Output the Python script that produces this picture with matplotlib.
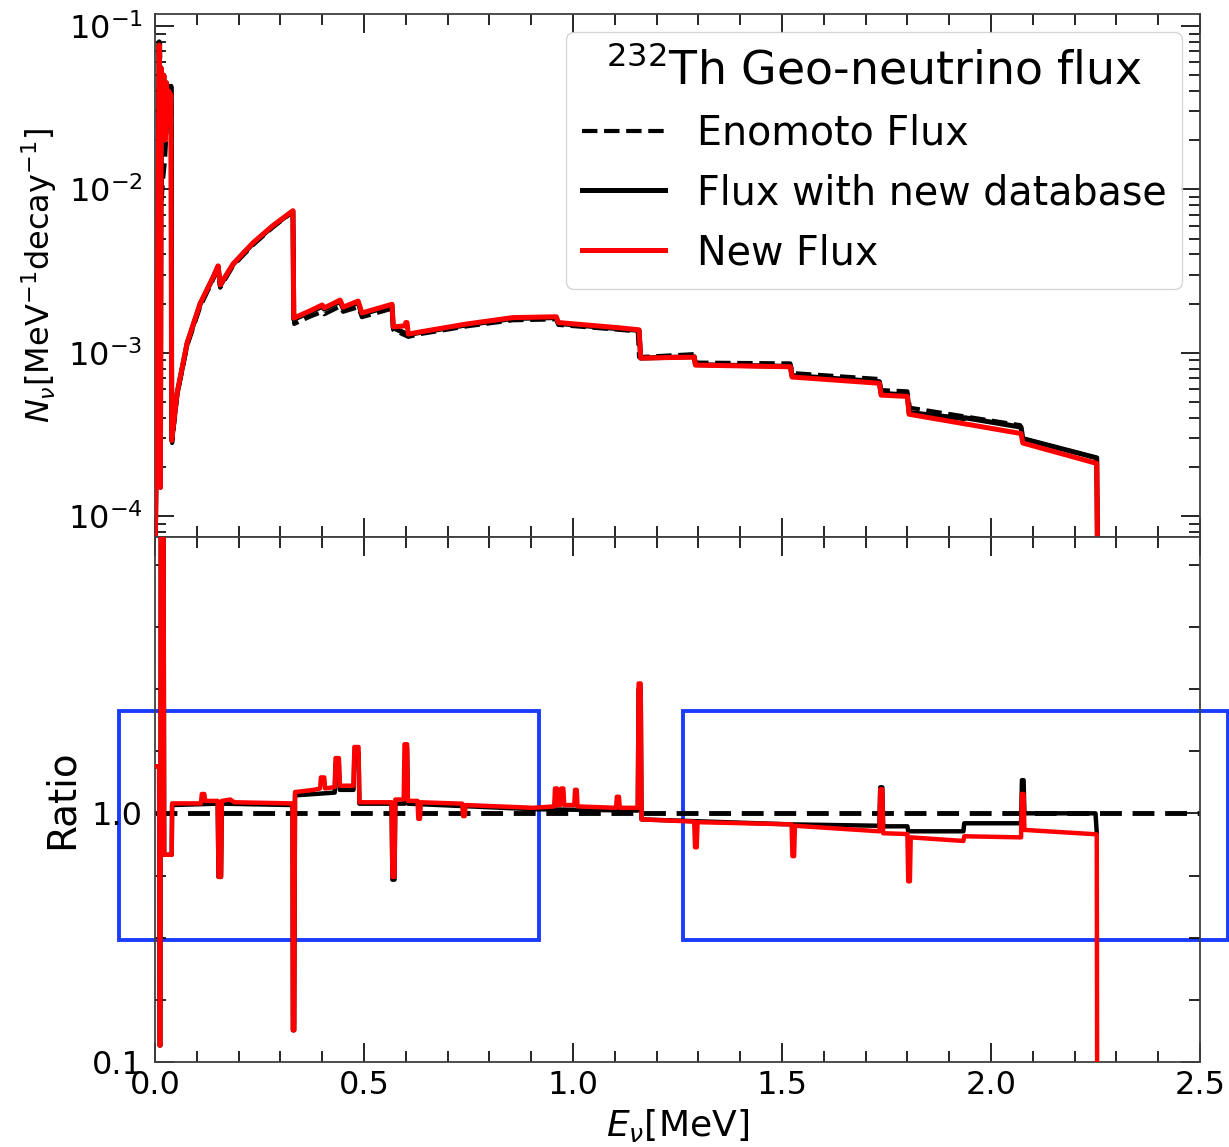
import matplotlib
matplotlib.use("Agg")
import matplotlib.pyplot as plt
from matplotlib.ticker import AutoMinorLocator, FixedLocator, FixedFormatter, LogLocator, NullFormatter
from matplotlib.lines import Line2D
from matplotlib.patches import Rectangle

# ---- 232Th geo-neutrino spectra (E in MeV, N in MeV^-1 decay^-1) ----
E_eno = [0.000, 0.003, 0.012, 0.014, 0.016, 0.020, 0.024, 0.030, 0.036, 0.039, 0.041,
         0.053, 0.077, 0.108, 0.139, 0.151, 0.156, 0.187, 0.234, 0.282, 0.330,
         0.333, 0.370, 0.400, 0.405, 0.443, 0.450, 0.486, 0.495, 0.567, 0.570, 0.606, 0.634,
         0.746, 0.856, 0.960, 0.965, 1.112, 1.155,
         1.158, 1.290, 1.293, 1.520, 1.526, 1.733, 1.737, 1.800, 1.806, 2.070, 2.076, 2.253, 2.255]
N_eno = [5e-5, 2e-4, 8.3e-2, 3.5e-2, 8.7e-3, 1.2e-2, 1.5e-2, 3.0e-2, 4.3e-2, 4.3e-2, 2.8e-4,
         5.5e-4, 1.1e-3, 1.9e-3, 2.8e-3, 3.3e-3, 2.5e-3, 3.4e-3, 4.55e-3, 5.85e-3, 7.3e-3,
         1.50e-3, 1.66e-3, 1.78e-3, 1.72e-3, 1.92e-3, 1.78e-3, 1.90e-3, 1.65e-3, 1.86e-3, 1.38e-3, 1.25e-3, 1.30e-3,
         1.45e-3, 1.58e-3, 1.60e-3, 1.48e-3, 1.38e-3, 1.35e-3,
         9.4e-4, 9.8e-4, 8.7e-4, 8.6e-4, 7.5e-4, 6.9e-4, 5.9e-4, 5.8e-4, 4.6e-4, 3.6e-4, 2.98e-4, 2.27e-4, 5e-5]

E_db = [0.000, 0.003, 0.010, 0.012, 0.013, 0.015, 0.018, 0.021, 0.024, 0.027, 0.030, 0.033, 0.036, 0.039, 0.040,
        0.053, 0.077, 0.108, 0.139, 0.151, 0.156, 0.187, 0.234, 0.282, 0.330,
        0.332, 0.370, 0.400, 0.405, 0.443, 0.450, 0.486, 0.495, 0.567, 0.570, 0.606, 0.634,
        0.746, 0.856, 0.960, 0.965, 1.112, 1.158,
        1.162, 1.290, 1.293, 1.520, 1.524, 1.733, 1.737, 1.800, 1.804, 1.935, 1.937, 2.072, 2.076, 2.253, 2.255]
N_db = [5e-5, 2e-4, 8.0e-2, 3.5e-2, 1.5e-4, 5.5e-2, 2.5e-2, 5.0e-2, 2.0e-2, 4.5e-2, 2.5e-2, 4.0e-2, 4.2e-2, 4.2e-2, 2.9e-4,
        5.6e-4, 1.14e-3, 1.98e-3, 2.88e-3, 3.38e-3, 2.58e-3, 3.48e-3, 4.65e-3, 5.95e-3, 7.35e-3,
        1.60e-3, 1.77e-3, 1.92e-3, 1.85e-3, 2.06e-3, 1.87e-3, 2.03e-3, 1.72e-3, 1.95e-3, 1.42e-3, 1.29e-3, 1.33e-3,
        1.48e-3, 1.62e-3, 1.64e-3, 1.51e-3, 1.40e-3, 1.37e-3,
        9.27e-4, 9.45e-4, 8.45e-4, 8.25e-4, 7.25e-4, 6.65e-4, 5.65e-4, 5.5e-4, 4.3e-4, 3.95e-4, 4.0e-4, 3.5e-4, 2.98e-4, 2.27e-4, 5e-5]

E_new = [0.000, 0.003, 0.010, 0.012, 0.013, 0.015, 0.018, 0.021, 0.024, 0.027, 0.030, 0.033, 0.036, 0.038, 0.040,
         0.053, 0.077, 0.108, 0.139, 0.151, 0.156, 0.187, 0.234, 0.282, 0.330,
         0.332, 0.370, 0.400, 0.405, 0.443, 0.450, 0.486, 0.495, 0.567, 0.570, 0.598, 0.600, 0.603, 0.606, 0.634,
         0.746, 0.856, 0.960, 0.965, 1.112, 1.158,
         1.162, 1.290, 1.293, 1.520, 1.524, 1.733, 1.737, 1.800, 1.804, 2.072, 2.076, 2.253, 2.255]
N_new = [5e-5, 2e-4, 7.65e-2, 3.5e-2, 1.5e-4, 5.5e-2, 2.5e-2, 5.0e-2, 2.0e-2, 4.5e-2, 2.5e-2, 4.0e-2, 3.8e-2, 3.8e-2, 2.9e-4,
         5.7e-4, 1.15e-3, 2.0e-3, 2.9e-3, 3.4e-3, 2.6e-3, 3.5e-3, 4.7e-3, 6.0e-3, 7.4e-3,
         1.63e-3, 1.80e-3, 1.96e-3, 1.88e-3, 2.10e-3, 1.90e-3, 2.07e-3, 1.75e-3, 1.98e-3, 1.44e-3, 1.46e-3, 1.53e-3, 1.53e-3, 1.30e-3, 1.34e-3,
         1.50e-3, 1.64e-3, 1.66e-3, 1.53e-3, 1.42e-3, 1.38e-3,
         9.27e-4, 9.4e-4, 8.4e-4, 8.2e-4, 7.1e-4, 6.5e-4, 5.5e-4, 5.4e-4, 4.2e-4, 3.2e-4, 2.8e-4, 2.1e-4, 5e-5]

# ---- ratios to the Enomoto flux ----
E_ratio_db = [0.000, 0.010, 0.011, 0.013, 0.014, 0.020, 0.022, 0.040, 0.041, 0.150,
              0.152, 0.158, 0.160, 0.329, 0.330, 0.333, 0.335, 0.430, 0.432, 0.440,
              0.442, 0.475, 0.477, 0.487, 0.489, 0.566, 0.568, 0.573, 0.575, 0.597,
              0.599, 0.603, 0.605, 0.905, 1.155, 1.157, 1.162, 1.164, 1.523, 1.733,
              1.735, 1.740, 1.742, 1.800, 1.802, 1.934, 1.936, 2.072, 2.074, 2.078,
              2.080, 2.250, 2.253]
R_db = [1.17, 1.17, 0.16, 0.16, 2.5, 2.5, 0.85, 0.85, 1.03, 1.035,
        0.77, 0.77, 1.035, 1.03, 0.215, 0.215, 1.065, 1.075, 1.18, 1.18,
        1.085, 1.085, 1.22, 1.22, 1.035, 1.035, 0.76, 0.76, 1.035, 1.035,
        1.24, 1.24, 1.035, 1.015, 1.01, 1.45, 1.45, 0.978, 0.96, 0.955,
        1.094, 1.094, 0.953, 0.953, 0.935, 0.935, 0.964, 0.964, 1.12, 1.12,
        1.0, 1.0, 0.93]

E_ratio_new = [0.000, 0.010, 0.011, 0.013, 0.014, 0.020, 0.022, 0.040, 0.041, 0.110,
               0.112, 0.118, 0.120, 0.150, 0.152, 0.158, 0.160, 0.180, 0.190, 0.329,
               0.330, 0.333, 0.335, 0.380, 0.395, 0.397, 0.405, 0.407, 0.430, 0.432,
               0.440, 0.442, 0.475, 0.477, 0.487, 0.489, 0.566, 0.568, 0.573, 0.575,
               0.595, 0.597, 0.603, 0.605, 0.628, 0.630, 0.634, 0.636, 0.735, 0.737,
               0.741, 0.743, 0.905, 0.955, 0.957, 0.962, 0.964, 0.970, 0.972, 0.977,
               0.979, 1.003, 1.005, 1.009, 1.011, 1.103, 1.105, 1.110, 1.112, 1.155,
               1.157, 1.162, 1.164, 1.290, 1.292, 1.296, 1.298, 1.523, 1.525, 1.529,
               1.531, 1.733, 1.735, 1.740, 1.742, 1.800, 1.802, 1.806, 1.808, 1.934,
               1.936, 2.072, 2.074, 2.078, 2.080, 2.253, 2.254]
R_new = [1.17, 1.17, 0.16, 0.16, 2.5, 2.5, 0.85, 0.85, 1.036, 1.036,
         1.07, 1.07, 1.045, 1.045, 0.77, 0.77, 1.045, 1.05, 1.04, 1.036,
         0.215, 0.215, 1.077, 1.085, 1.09, 1.13, 1.13, 1.09, 1.095, 1.20,
         1.20, 1.10, 1.10, 1.24, 1.24, 1.04, 1.04, 0.77, 0.77, 1.05,
         1.05, 1.25, 1.25, 1.045, 1.045, 0.98, 0.98, 1.04, 1.035, 0.99,
         0.99, 1.03, 1.02, 1.025, 1.09, 1.09, 1.03, 1.03, 1.09, 1.09,
         1.03, 1.03, 1.085, 1.085, 1.025, 1.02, 1.06, 1.06, 1.02, 1.02,
         1.47, 1.47, 0.978, 0.97, 0.877, 0.877, 0.968, 0.96, 0.845, 0.845,
         0.955, 0.935, 1.087, 1.087, 0.928, 0.925, 0.754, 0.754, 0.913, 0.90,
         0.917, 0.913, 1.07, 1.07, 0.94, 0.924, 0.0]

ratio_ticks = [0.1, 1.0]
ratio_ticklabels = ["0.1", "1.0"]
legend_labels = ["Enomoto Flux", "Flux with new database", "New Flux"]
legend_title = r"$^{232}$Th Geo-neutrino flux"

fig = plt.figure(figsize=(12.29, 11.47), dpi=100)
ax1 = fig.add_axes([0.1261, 0.5318, 0.8503, 0.4560])
ax2 = fig.add_axes([0.1261, 0.0741, 0.8503, 0.4577])

# upper panel: spectra
ax1.plot(E_db, N_db, color="black", lw=3.6, zorder=2)
ax1.plot(E_eno, N_eno, color="black", ls="--", lw=3.0, zorder=3)
ax1.plot(E_new, N_new, color="red", lw=3.6, zorder=4)
ax1.set_yscale("log")
ax1.set_xlim(0, 2.5)
ax1.set_ylim(7.44e-5, 0.1185)
ax1.set_ylabel(r"$N_{\nu}[\mathrm{MeV}^{-1}\mathrm{decay}^{-1}]$", fontsize=23, labelpad=6)
ax1.yaxis.set_major_locator(LogLocator(base=10, numticks=10))
ax1.yaxis.set_minor_locator(LogLocator(base=10, subs=range(2, 10), numticks=20))
ax1.yaxis.set_minor_formatter(NullFormatter())
ax1.xaxis.set_minor_locator(AutoMinorLocator(5))
ax1.tick_params(axis="x", labelbottom=False)

handles = [Line2D([], [], color="black", ls="--", lw=3.0),
           Line2D([], [], color="black", lw=3.6),
           Line2D([], [], color="red", lw=3.6)]
leg = ax1.legend(handles, legend_labels, loc="upper right", fontsize=28.5,
                 title=legend_title, title_fontsize=33, handlelength=2.1,
                 labelspacing=0.5, borderaxespad=0.45)

# lower panel: ratios
ax2.axhline(1.0, color="black", ls="--", lw=3.5, dashes=(4.5, 2.2), zorder=2)
ax2.plot(E_ratio_db, R_db, color="black", lw=3.2, zorder=3)
ax2.plot(E_ratio_new, R_new, color="red", lw=3.2, zorder=4)
ax2.set_xlim(0, 2.5)
ax2.set_ylim(0.1, 2.0)
ax2.yaxis.set_major_locator(FixedLocator(ratio_ticks))
ax2.yaxis.set_major_formatter(FixedFormatter(ratio_ticklabels))
ax2.yaxis.set_minor_locator(AutoMinorLocator(4))
ax2.xaxis.set_minor_locator(AutoMinorLocator(5))
ax2.set_ylabel("Ratio", fontsize=28, labelpad=8)
ax2.set_xlabel(r"$E_{\nu}[\mathrm{MeV}]$", fontsize=26, labelpad=4)

# highlighted regions
for x0, x1 in [(-0.086, 0.919), (1.263, 2.567)]:
    ax2.add_patch(Rectangle((x0, 0.54), x1 - x0, 1.369 - 0.54, fill=False,
                            edgecolor="#1a3cff", lw=2.8, clip_on=False, zorder=1))

for ax in (ax1, ax2):
    ax.tick_params(which="both", direction="in", top=True, right=True, width=1.2)
    ax.tick_params(which="major", length=14)
    ax.tick_params(which="minor", length=8)
    ax.tick_params(axis="y", which="major", labelsize=23, pad=9)
    ax.tick_params(axis="x", which="major", labelsize=23, pad=6)
    for s in ax.spines.values():
        s.set_linewidth(1.3)
        s.set_color("0.25")

fig.savefig("out.png", dpi=100)
